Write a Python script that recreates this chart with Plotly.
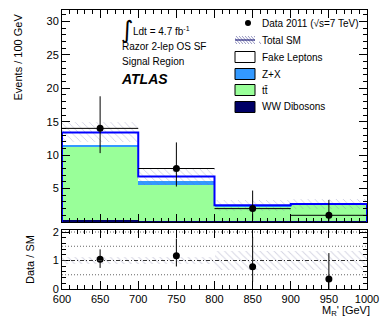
import plotly.graph_objects as go
import numpy as np

# ---------------- data ----------------
bin_edges = [600, 700, 800, 900, 1000]
ww_dibosons = [0.3, 0.2, 0.2, 0.2]
ttbar = [10.9, 5.3, 2.1, 2.3]
z_x = [0.3, 0.6, 0.1, 0.1]
fake_leptons = [1.9, 0.7, 0.1, 0.1]
sm_err = [1.5, 1.2, 0.8, 0.7]

data_counts = [14, 8, 2, 1]
data_err_up = [4.8, 3.9, 2.7, 2.3]
data_err_dn = [3.7, 2.7, 1.7, 0.8]

ratio_vals = [1.04, 1.17, 0.78, 0.35]
ratio_err_up = [0.35, 0.60, 1.05, 0.91]
ratio_err_dn = [0.30, 0.38, 0.52, 0.35]
ratio_band = [0.11, 0.12, 0.32, 0.32]
ratio_guides = [0.5, 1.5, 2.0]
ratio_unity = 1.0

x_ticks = [600, 650, 700, 750, 800, 850, 900, 950, 1000]
main_y_ticks = [5, 10, 15, 20, 25, 30]
ratio_y_ticks = [0, 1, 2]

# ---------------- derived ----------------
edges = np.array(bin_edges, dtype=float)
centers = (edges[:-1] + edges[1:]) / 2
widths = np.diff(edges)
half = widths / 2

comps = [
    ("WW Dibosons", ww_dibosons, "#000066"),
    ("tt̄", ttbar, "#99ff99"),
    ("Z+X", z_x, "#3399ff"),
    ("Fake Leptons", fake_leptons, "#ffffff"),
]
total = np.sum([np.array(c[1]) for c in comps], axis=0)

W, H = 390, 321
L, R, T, B = 62, 367, 10, 289
FONT = "Liberation Sans, Arial, Helvetica, sans-serif"


def px(x):
    return (x - L) / (R - L)


def py(y):
    return (B - y) / (B - T)


fig = go.Figure()

HATCH = dict(shape="\\", fgcolor="rgba(110,110,170,0.75)", bgcolor="rgba(0,0,0,0)",
             size=5, solidity=0.15)

base = np.zeros(len(centers))
for name, vals, col in comps:
    v = np.array(vals)
    fig.add_trace(go.Bar(x=centers, y=v, base=base, width=widths,
                         marker=dict(color=col, line=dict(width=0)),
                         showlegend=False, xaxis="x", yaxis="y"))
    base = base + v

# total SM uncertainty band
err = np.array(sm_err)
fig.add_trace(go.Bar(x=centers, y=2 * err, base=total - err, width=widths,
                     marker=dict(color="rgba(0,0,0,0)", line=dict(width=0), pattern=HATCH),
                     showlegend=False, xaxis="x", yaxis="y"))

# total SM outline
line_x = [edges[0]] + list(edges) + [edges[-1]]
line_y = [0] + list(total) + [total[-1]] + [0]
fig.add_trace(go.Scatter(x=line_x, y=line_y, mode="lines", line=dict(color="#0000ff", width=2, shape="hv"),
                         showlegend=False, xaxis="x", yaxis="y"))

# data
fig.add_trace(go.Scatter(x=centers, y=data_counts, mode="markers",
                         marker=dict(color="black", size=7),
                         error_y=dict(type="data", symmetric=False, array=data_err_up,
                                      arrayminus=data_err_dn, color="black", thickness=1, width=0),
                         error_x=dict(type="data", array=half, color="black", thickness=1, width=0),
                         showlegend=False, xaxis="x", yaxis="y"))

# ratio band
rb = np.array(ratio_band)
fig.add_trace(go.Bar(x=centers, y=2 * rb, base=1 - rb, width=widths,
                     marker=dict(color="rgba(0,0,0,0)", line=dict(width=0),
                                 pattern=dict(shape="\\", fgcolor="rgba(150,150,185,0.85)",
                                              bgcolor="rgba(0,0,0,0)", size=5, solidity=0.18)),
                     showlegend=False, xaxis="x2", yaxis="y2"))

fig.add_trace(go.Scatter(x=centers, y=ratio_vals, mode="markers",
                         marker=dict(color="black", size=7),
                         error_y=dict(type="data", symmetric=False, array=ratio_err_up,
                                      arrayminus=ratio_err_dn, color="black", thickness=1, width=0),
                         showlegend=False, xaxis="x2", yaxis="y2"))

shapes = []
for g in ratio_guides:
    shapes.append(dict(type="line", xref="x2 domain", yref="y2", x0=0, x1=1, y0=g, y1=g,
                       line=dict(color="#666666", width=1, dash="1px,2px"), layer="below"))
shapes.append(dict(type="line", xref="x2 domain", yref="y2", x0=0, x1=1, y0=ratio_unity, y1=ratio_unity,
                   line=dict(color="#333333", width=1, dash="4px,2px,1px,2px"), layer="above"))

# legend (manual)
annotations = []
leg_x0, leg_x1, leg_tx = 235, 255, 260
leg_rows = [23, 40, 57, 74, 90, 107]
leg_labels = ["Data 2011 (√s=7 TeV)", "Total SM", "Fake Leptons", "Z+X", "tt̄", "WW Dibosons"]
for lab, yy in zip(leg_labels, leg_rows):
    annotations.append(dict(x=px(leg_tx), y=py(yy), xref="paper", yref="paper", text=lab,
                            showarrow=False, xanchor="left", yanchor="middle",
                            font=dict(family=FONT, size=10, color="black")))
# data marker glyph
shapes.append(dict(type="circle", xref="paper", yref="paper",
                   x0=px(245), x1=px(251), y0=py(26), y1=py(20),
                   fillcolor="black", line=dict(color="black", width=0)))
# total SM glyph
shapes.append(dict(type="path", xref="paper", yref="paper",
                   path=" ".join(
                       [f"M{px(leg_x0 + i)},{py(36)} L{px(leg_x0 + i + 7)},{py(44)}" for i in range(-5, 20, 3)]),
                   line=dict(color="rgba(110,110,170,0.7)", width=1)))
shapes.append(dict(type="rect", xref="paper", yref="paper", x0=px(leg_x0 - 6), x1=px(leg_x0), y0=py(45), y1=py(35),
                   fillcolor="white", line=dict(width=0)))
shapes.append(dict(type="rect", xref="paper", yref="paper", x0=px(leg_x1), x1=px(leg_x1 + 4), y0=py(45), y1=py(35),
                   fillcolor="white", line=dict(width=0)))
shapes.append(dict(type="line", xref="paper", yref="paper", x0=px(leg_x0), x1=px(leg_x1), y0=py(40), y1=py(40),
                   line=dict(color="#000066", width=1)))
box_cols = ["#ffffff", "#3399ff", "#99ff99", "#000066"]
for col, yy in zip(box_cols, leg_rows[2:]):
    shapes.append(dict(type="rect", xref="paper", yref="paper", x0=px(leg_x0), x1=px(leg_x1),
                       y0=py(yy + 5.5), y1=py(yy - 5.5), fillcolor=col, line=dict(color="black", width=1)))

# plot texts
txt = [
    dict(x=px(119), y=py(30), text="∫", font=dict(family="DejaVu Sans", size=24, color="black")),
    dict(x=px(131), y=py(31), text="Ldt = 4.7 fb<sup>-1</sup>", font=dict(family=FONT, size=10, color="black")),
    dict(x=px(120), y=py(46), text="Razor 2-lep OS SF", font=dict(family=FONT, size=10, color="black")),
    dict(x=px(120), y=py(62), text="Signal Region", font=dict(family=FONT, size=10, color="black")),
    dict(x=px(119), y=py(79), text="<b><i>ATLAS</i></b>", font=dict(family=FONT, size=14, color="black")),
]
for a in txt:
    a.update(xref="paper", yref="paper", showarrow=False, xanchor="left", yanchor="middle")
annotations += txt

annotations += [
    dict(x=px(18), y=py(12), xref="paper", yref="paper", text="Events / 100 GeV", textangle=-90,
         showarrow=False, xanchor="center", yanchor="top", font=dict(family=FONT, size=11, color="black")),
    dict(x=px(30), y=py(260), xref="paper", yref="paper", text="Data / SM", textangle=-90,
         showarrow=False, xanchor="center", yanchor="middle", font=dict(family=FONT, size=11, color="black")),
    dict(x=px(372), y=py(311), xref="paper", yref="paper", text="M<sub>R</sub>' [GeV]",
         showarrow=False, xanchor="right", yanchor="middle", font=dict(family=FONT, size=11, color="black")),
]

axis_common = dict(showline=True, linecolor="black", linewidth=1, mirror="ticks", ticks="inside",
                   tickcolor="black", showgrid=False, zeroline=False, layer="above traces",
                   automargin=False, tickfont=dict(family=FONT, size=11, color="black"))

fig.update_layout(
    width=W, height=H,
    margin=dict(l=L, r=W - R, t=T, b=H - B, autoexpand=False),
    paper_bgcolor="white", plot_bgcolor="white",
    barmode="overlay", bargap=0,
    showlegend=False,
    xaxis=dict(domain=[0, 1], range=[600, 1000], anchor="y", showticklabels=False, matches="x2",
               tickvals=x_ticks, ticklen=8, minor=dict(dtick=10, ticklen=4, ticks="inside", tickcolor="black"),
               **axis_common),
    yaxis=dict(domain=[py(222), 1], range=[0, 31.7], anchor="x", tickvals=main_y_ticks, ticklen=8,
               minor=dict(dtick=1, ticklen=4, ticks="inside", tickcolor="black"), **axis_common),
    xaxis2=dict(domain=[0, 1], range=[600, 1000], anchor="y2", tickvals=x_ticks, ticklen=8,
                minor=dict(dtick=10, ticklen=4, ticks="inside", tickcolor="black"), **axis_common),
    yaxis2=dict(domain=[0, py(230)], range=[0, 2.07], anchor="x2", tickvals=ratio_y_ticks, ticklen=8,
                minor=dict(dtick=0.2, ticklen=4, ticks="inside", tickcolor="black"), **axis_common),
    shapes=shapes,
    annotations=annotations,
)

fig.write_html("out.html", config={"displayModeBar": False, "staticPlot": True},
               post_script="document.body.style.margin='0px';document.body.style.padding='0px';")
